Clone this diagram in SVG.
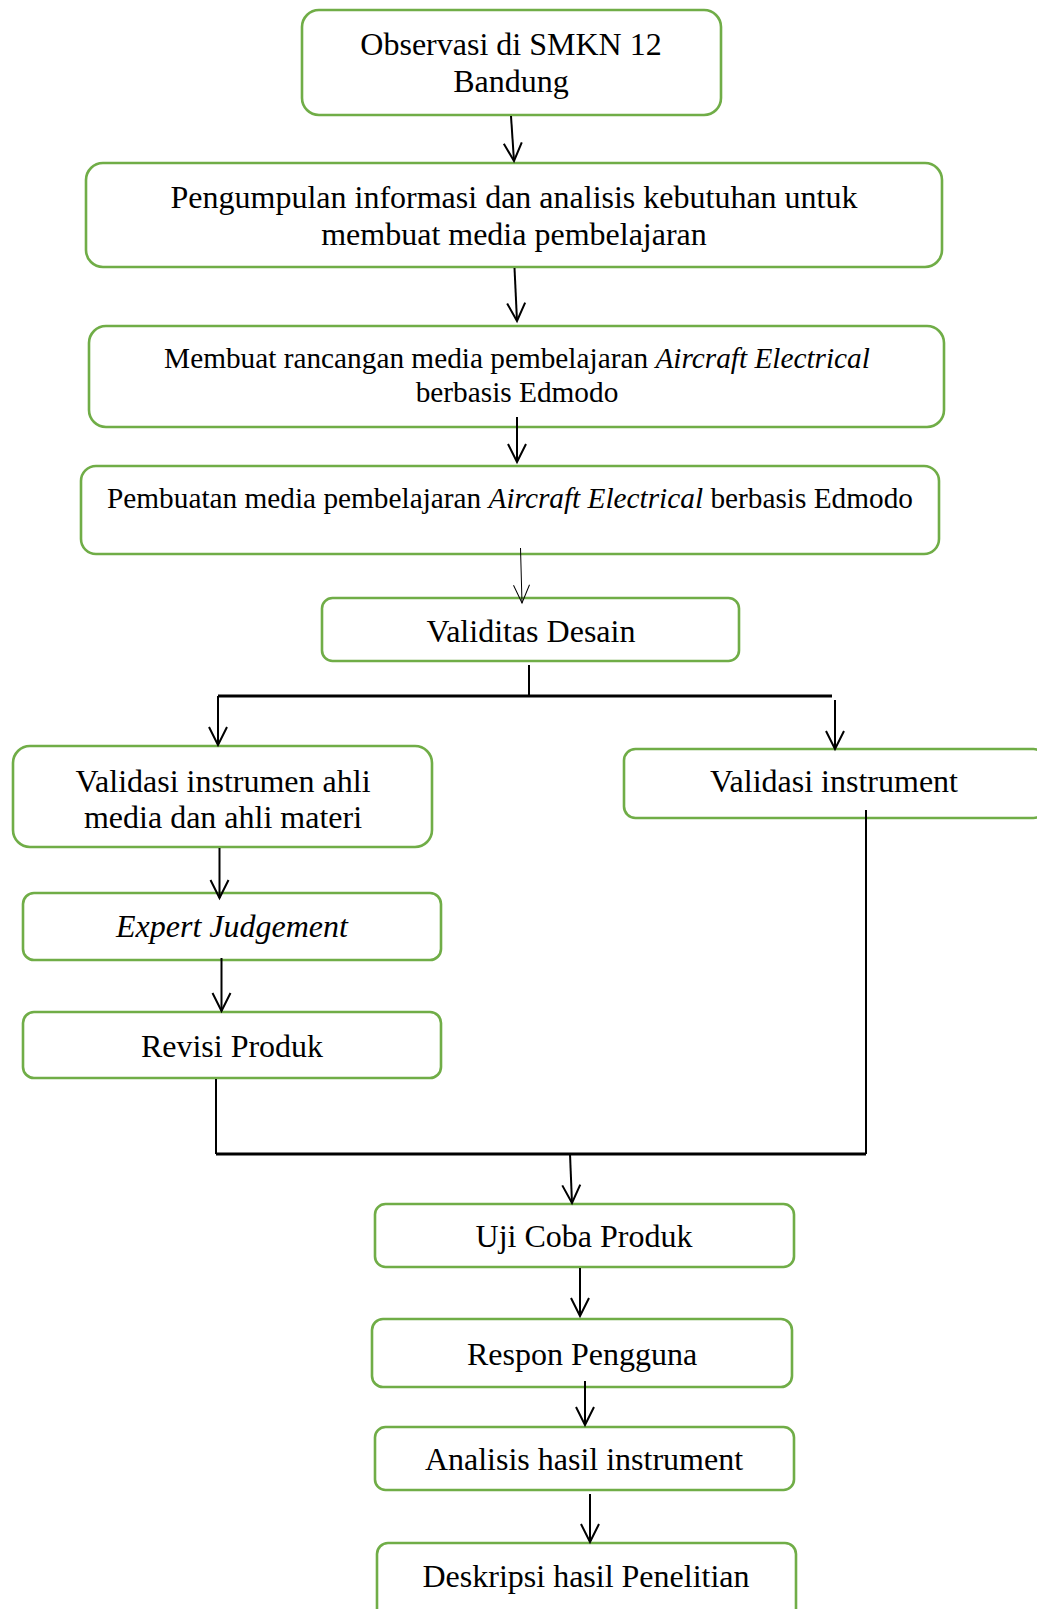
<svg xmlns="http://www.w3.org/2000/svg" width="1037" height="1609" viewBox="0 0 1037 1609">
<style>
.box{fill:#fff;stroke:#70AD47;stroke-width:2.6}
.t{font-family:"Liberation Serif","Times New Roman",serif;font-size:32px;fill:#000;text-anchor:middle}
.s{font-size:29.3px}
.i{font-style:italic}
.c{fill:none;stroke:#000;stroke-width:2}
.thin{fill:none;stroke:#000;stroke-width:1}
.h{fill:none;stroke:#000;stroke-width:3}
</style>
<defs>
<marker id="arr" viewBox="-22 -12 26 24" markerWidth="26" markerHeight="24" refX="0" refY="0" orient="auto" markerUnits="userSpaceOnUse"><path d="M-18,-9 L0,0 L-18,9" fill="none" stroke="#000" stroke-width="2"/></marker>
<marker id="arrT" viewBox="-22 -12 26 24" markerWidth="26" markerHeight="24" refX="0" refY="0" orient="auto" markerUnits="userSpaceOnUse"><path d="M-18,-8 L0,0 L-18,8" fill="none" stroke="#000" stroke-width="1"/></marker>
</defs>
<g id="n1"><rect class="box" x="302" y="10" width="419" height="105" rx="17"/>
<text class="t" x="511" y="55">Observasi di SMKN 12</text><text class="t" x="511" y="92">Bandung</text></g>
<g id="n2"><rect class="box" x="86" y="163" width="856" height="104" rx="17"/>
<text class="t" x="514" y="208">Pengumpulan informasi dan analisis kebutuhan untuk</text><text class="t" x="514" y="245">membuat media pembelajaran</text></g>
<g id="n3"><rect class="box" x="89" y="326" width="855" height="101" rx="17"/>
<text class="t s" x="517" y="368">Membuat rancangan media pembelajaran <tspan class="i">Aircraft Electrical</tspan></text><text class="t s" x="517" y="402">berbasis Edmodo</text></g>
<g id="n4"><rect class="box" x="81" y="466" width="858" height="88" rx="15"/>
<text class="t s" x="510" y="508">Pembuatan media pembelajaran <tspan class="i">Aircraft Electrical</tspan> berbasis Edmodo</text></g>
<g id="n5"><rect class="box" x="322" y="598" width="417" height="63" rx="10.5"/>
<text class="t" x="531" y="642">Validitas Desain</text></g>
<g id="n6"><rect class="box" x="13" y="746" width="419" height="101" rx="17"/>
<text class="t" x="223" y="792">Validasi instrumen ahli</text><text class="t" x="223" y="828">media dan ahli materi</text></g>
<g id="n7"><rect class="box" x="624" y="749" width="421" height="69" rx="11.5"/>
<text class="t" x="834" y="792">Validasi instrument</text></g>
<g id="n8"><rect class="box" x="23" y="893" width="418" height="67" rx="11"/>
<text class="t i" x="232" y="937">Expert Judgement</text></g>
<g id="n9"><rect class="box" x="23" y="1012" width="418" height="66" rx="11"/>
<text class="t" x="232" y="1057">Revisi Produk</text></g>
<g id="n10"><rect class="box" x="375" y="1204" width="419" height="63" rx="10.5"/>
<text class="t" x="584" y="1247">Uji Coba Produk</text></g>
<g id="n11"><rect class="box" x="372" y="1319" width="420" height="68" rx="11"/>
<text class="t" x="582" y="1365">Respon Pengguna</text></g>
<g id="n12"><rect class="box" x="375" y="1427" width="419" height="63" rx="10.5"/>
<text class="t" x="584" y="1470">Analisis hasil instrument</text></g>
<g id="n13"><rect class="box" x="377" y="1543" width="419" height="90" rx="11"/>
<text class="t" x="586" y="1587">Deskripsi hasil Penelitian</text></g>
<g id="connectors">
<line class="c" x1="511" y1="116" x2="514" y2="161" marker-end="url(#arr)"/>
<line class="c" x1="514.5" y1="268" x2="517" y2="321" marker-end="url(#arr)"/>
<line class="c" x1="517" y1="417" x2="517" y2="462" marker-end="url(#arr)"/>
<line class="thin" x1="520.5" y1="548" x2="522" y2="603" marker-end="url(#arrT)"/>
<line class="c" x1="529" y1="665" x2="529" y2="696"/>
<line class="h" x1="218" y1="696" x2="832" y2="696"/>
<line class="c" x1="218" y1="696" x2="218" y2="745" marker-end="url(#arr)"/>
<line class="c" x1="835" y1="700" x2="835" y2="749" marker-end="url(#arr)"/>
<line class="c" x1="219.5" y1="848" x2="219.5" y2="898" marker-end="url(#arr)"/>
<line class="c" x1="221.5" y1="958" x2="221.5" y2="1011" marker-end="url(#arr)"/>
<line class="c" x1="216" y1="1079" x2="216" y2="1154"/>
<line class="c" x1="866" y1="810" x2="866" y2="1154"/>
<line class="h" x1="216" y1="1154" x2="866" y2="1154"/>
<line class="c" x1="570" y1="1154" x2="572" y2="1203" marker-end="url(#arr)"/>
<line class="c" x1="580" y1="1268" x2="580" y2="1316" marker-end="url(#arr)"/>
<line class="c" x1="585" y1="1381" x2="585" y2="1425" marker-end="url(#arr)"/>
<line class="c" x1="590" y1="1494" x2="590" y2="1542" marker-end="url(#arr)"/>
</g>
</svg>
